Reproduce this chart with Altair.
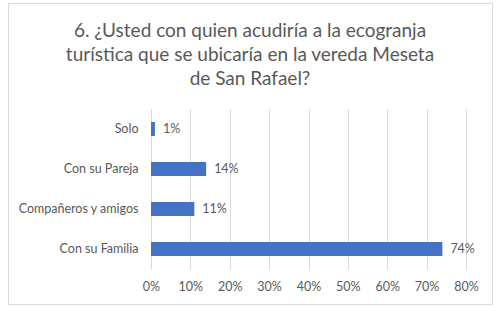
import altair as alt
import pandas as pd

categories = ["Solo", "Con su Pareja", "Compañeros y amigos", "Con su Familia"]
shares = [0.01, 0.14, 0.11, 0.74]
title_lines = [
    "6. ¿Usted con quien acudiría a la ecogranja",
    "turística que se ubicaría en la vereda Meseta",
    "de San Rafael?",
]
x_ticks = [0, 0.1, 0.2, 0.3, 0.4, 0.5, 0.6, 0.7, 0.8]

df = pd.DataFrame({"categoria": categories, "valor": shares})

FONT = "Lato"
GREY = "#595959"
LABEL_SIZE = 12.5

x_enc = alt.X(
    "valor:Q",
    scale=alt.Scale(domain=[0, 0.8], nice=False),
    axis=alt.Axis(
        format=".0%", values=x_ticks, title=None,
        domain=False, ticks=False, grid=True, gridColor="#d9d9d9",
        labelColor=GREY, labelFontSize=LABEL_SIZE, labelFont=FONT, labelPadding=11,
        labelOverlap=False, labelFlush=False,
    ),
)
y_enc = alt.Y(
    "categoria:N",
    sort=categories,
    scale=alt.Scale(paddingInner=0.65, paddingOuter=0.325),
    axis=alt.Axis(
        title=None, domain=False, ticks=False,
        labelColor=GREY, labelFontSize=LABEL_SIZE, labelFont=FONT, labelPadding=13,
    ),
)

bars = alt.Chart(df).mark_bar(color="#4472C4").encode(x=x_enc, y=y_enc)
labels = alt.Chart(df).mark_text(
    align="left", dx=8, color=GREY, fontSize=LABEL_SIZE, font=FONT
).encode(x=x_enc, y=y_enc, text=alt.Text("valor:Q", format=".0%"))

# outer frame around the whole figure
frame = alt.Chart(df).mark_rect(
    fill=None, stroke="#d9d9d9", strokeWidth=1
).encode(
    x=alt.value(-142.5), x2=alt.value(341.5), y=alt.value(-105.5), y2=alt.value(195.5)
)

# three-line heading, centred on the figure, one text mark per line
heading_layers = []
for i, line in enumerate(title_lines):
    heading_layers.append(
        alt.Chart(pd.DataFrame({"t": [line]})).mark_text(
            align="center", baseline="alphabetic", font=FONT, fontSize=19, color=GREY,
        ).encode(x=alt.value(99), y=alt.value(-72 + 24 * i), text="t:N")
    )

chart = alt.layer(frame, bars, labels, *heading_layers).properties(
    width=315,
    height=160,
    autosize=alt.AutoSizeParams(type="none"),
    padding={"left": 151, "top": 109, "right": 34, "bottom": 42},
).configure_view(stroke=None)

chart.save("out.html", embed_options={"renderer": "svg", "actions": False})
